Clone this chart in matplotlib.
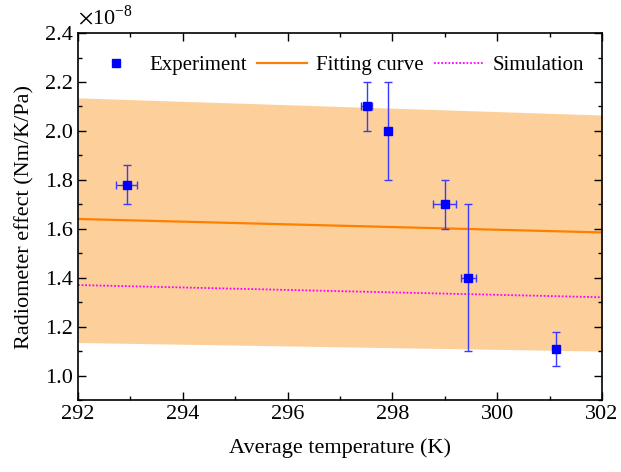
import matplotlib.pyplot as plt
from matplotlib.ticker import MultipleLocator
from matplotlib.lines import Line2D

plt.rcParams['font.family'] = ['Liberation Serif', 'DejaVu Serif']
plt.rcParams['mathtext.fontset'] = 'stix'

# measured points (radiometer effect in 1e-8 Nm/K/Pa)
temp = [292.93, 297.51, 297.92, 299.0, 299.45, 301.12]
effect = [1.78, 2.10, 2.00, 1.70, 1.40, 1.11]
temp_err = [0.2, 0.1, 0.0, 0.22, 0.15, 0.0]
effect_err = [0.08, 0.10, 0.20, 0.10, 0.30, 0.07]

# fit and simulation at the axis ends
line_t = [292, 302]
fit = [1.64, 1.585]
fit_upper = [2.135, 2.065]
fit_lower = [1.135, 1.10]
sim = [1.37, 1.32]

fig = plt.figure(figsize=(6.21, 4.72), dpi=100)
ax = fig.add_axes([0.1256, 0.1525, 0.8438, 0.7775])

ax.fill_between(line_t, fit_lower, fit_upper, color='#fdd09b', lw=0, zorder=1)
ax.plot(line_t, fit, color='#ff7f00', lw=1.6, zorder=2)
ax.plot(line_t, sim, color='#ff00ff', lw=1.3, ls=(0, (1, 1)), zorder=2)
ax.errorbar(temp, effect, yerr=effect_err, xerr=temp_err, fmt='s', color='#0000ff',
            ecolor='#3a3aff', elinewidth=1.0, capsize=3, capthick=1.0, ms=5.5, zorder=3)

ax.set_xlim(292, 302)
ax.set_ylim(0.9, 2.4)
ax.xaxis.set_major_locator(MultipleLocator(2))
ax.xaxis.set_minor_locator(MultipleLocator(1))
ax.yaxis.set_minor_locator(MultipleLocator(0.1))
ax.set_yticks([1.0, 1.2, 1.4, 1.6, 1.8, 2.0, 2.2, 2.4])
ax.yaxis.set_major_formatter(plt.FormatStrFormatter('%.1f'))
ax.tick_params(which='both', direction='in', top=True, right=True, labelsize=16, width=1)
ax.tick_params(which='major', length=6)
ax.tick_params(which='minor', length=3)
for s in ax.spines.values():
    s.set_linewidth(1.2)

ax.set_xlabel('Average temperature (K)', fontsize=16, labelpad=10)
ax.set_ylabel('Radiometer effect (Nm/K/Pa)', fontsize=16, labelpad=8)
ax.text(0.0, 1.01, r'$\times$10$^{\mathregular{-8}}$', transform=ax.transAxes,
        fontsize=16, ha='left', va='bottom')

handles = [
    Line2D([], [], ls='none', marker='s', ms=5.5, color='#0000ff'),
    Line2D([], [], color='#ff7f00', lw=1.6),
    Line2D([], [], color='#ff00ff', lw=1.3, ls=(0, (1, 1))),
]
labels = ['Experiment', 'Fitting curve', 'Simulation']
ax.legend(handles, labels, loc='upper center', ncol=3, frameon=False, fontsize=15,
          handlelength=2.4, columnspacing=0.5, handletextpad=0.4,
          bbox_to_anchor=(0.495, 0.99))

fig.savefig('out.png', dpi=100)
